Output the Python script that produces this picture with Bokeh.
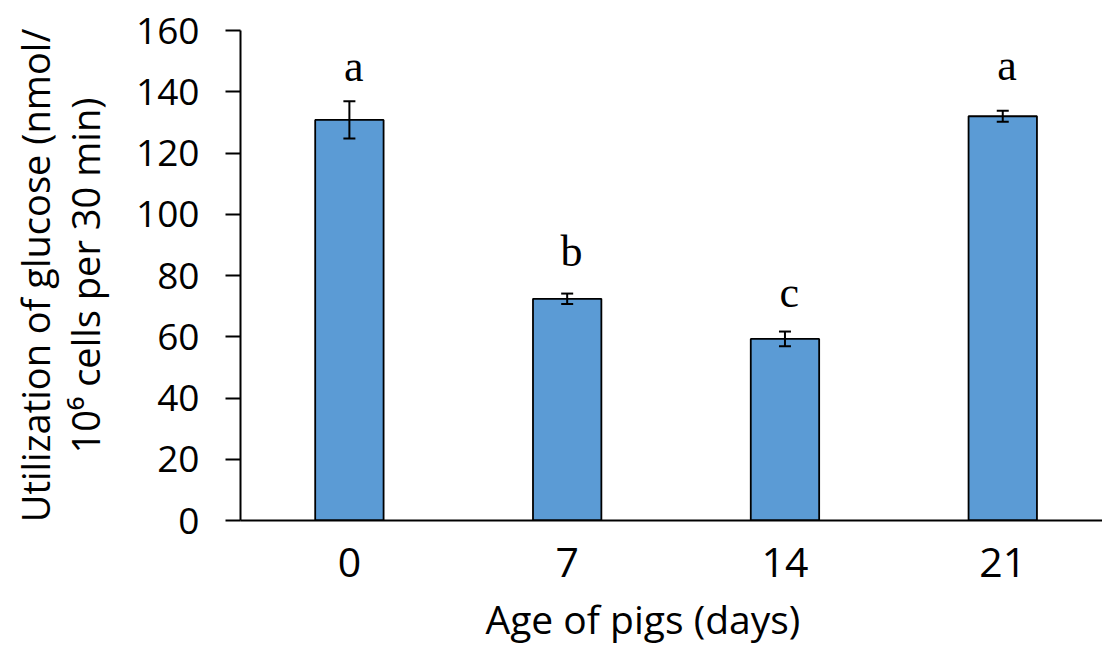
from bokeh.plotting import figure
from bokeh.models import Range1d, FixedTicker, ColumnDataSource, Whisker, TeeHead, Title
from bokeh.core.properties import value
from bokeh.embed import file_html
from bokeh.resources import INLINE

# ---- data ----
ages = ["0", "7", "14", "21"]
means = [130.8, 72.4, 59.3, 132.0]
errors = [6.1, 1.7, 2.4, 1.8]
letters = ["a", "b", "c", "a"]
letter_y = [148.3, 87.8, 74.5, 148.7]
y_ticks = [0, 20, 40, 60, 80, 100, 120, 140, 160]
x_title = "Age of pigs (days)"
y_title = "Utilization of glucose (nmol/\n10\u2076 cells per 30 min)"

xs = list(range(len(ages)))
src = ColumnDataSource(dict(
    x=xs, top=means,
    upper=[m + e for m, e in zip(means, errors)],
    lower=[m - e for m, e in zip(means, errors)],
))

p = figure(width=1102, height=654, output_backend="svg", toolbar_location=None,
           x_range=Range1d(-0.5, 3.458), y_range=Range1d(0, 160),
           min_border_left=240, min_border_right=0, min_border_top=30,
           min_border_bottom=134)
p.outline_line_color = None
p.grid.visible = False
p.background_fill_color = "white"
p.border_fill_color = "white"

p.vbar(x="x", top="top", width=0.314, bottom=0, source=src,
       fill_color="#5B9BD5", line_color="black", line_width=1.8)

w = Whisker(base="x", upper="upper", lower="lower", source=src,
            line_color="black", line_width=2, level="overlay",
            upper_head=TeeHead(size=12, line_color="black", line_width=2),
            lower_head=TeeHead(size=12, line_color="black", line_width=2))
p.add_layout(w)

p.text(x=[x + 0.02 for x in xs], y=letter_y, text=letters,
       text_font=value("Liberation Serif"), text_font_size="44px",
       text_align="center", text_baseline="middle", text_color="black")

# y axis
ya = p.yaxis[0]
ya.ticker = FixedTicker(ticks=y_ticks)
ya.axis_line_color = "black"
ya.axis_line_width = 2
ya.major_tick_line_width = 2
ya.major_tick_out = 15
ya.major_tick_in = 0
ya.minor_tick_line_color = None
ya.major_label_text_font = "Open Sans"
ya.major_label_text_font_size = "37px"
ya.major_label_text_color = "black"
ya.major_label_standoff = 26
ya.axis_label = y_title
ya.axis_label_text_font = "Open Sans"
ya.axis_label_text_font_size = "38px"
ya.axis_label_text_font_style = "normal"
ya.axis_label_text_color = "black"
ya.axis_label_text_line_height = 0.97
ya.axis_label_standoff = 22

# x axis
xa = p.xaxis[0]
xa.ticker = FixedTicker(ticks=xs)
xa.major_label_overrides = {i: a for i, a in enumerate(ages)}
xa.axis_line_color = "black"
xa.axis_line_width = 2
xa.major_tick_out = 0
xa.major_tick_in = 0
xa.minor_tick_line_color = None
xa.major_label_text_font = "Open Sans"
xa.major_label_text_font_size = "41px"
xa.major_label_text_color = "black"
xa.major_label_standoff = 27

p.add_layout(Title(text=x_title, align="left", offset=245,
                   text_font="Open Sans", text_font_size="39px",
                   text_font_style="normal", text_color="black",
                   standoff=20), "below")

open("out.html", "w").write(file_html(p, INLINE))
